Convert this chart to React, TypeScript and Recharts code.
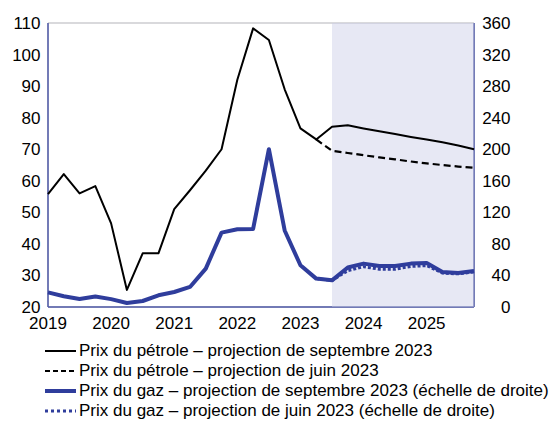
import React from "react";
import {
  ComposedChart,
  Line,
  XAxis,
  YAxis,
  CartesianGrid,
  ReferenceArea,
  ReferenceLine,
  Legend,
} from "recharts";

// Quarterly dates (2019 Q1 … 2025 Q4)
const dates = [
  2019, 2019.25, 2019.5, 2019.75,
  2020, 2020.25, 2020.5, 2020.75,
  2021, 2021.25, 2021.5, 2021.75,
  2022, 2022.25, 2022.5, 2022.75,
  2023, 2023.25, 2023.5, 2023.75,
  2024, 2024.25, 2024.5, 2024.75,
  2025, 2025.25, 2025.5, 2025.75,
];

// Oil price – September 2023 projection (left scale)
const oilSep = [
  55.8, 62.1, 56, 58.3,
  46.5, 25.4, 37, 37,
  51, 57, 63.2, 70,
  92, 108.3, 104.6, 89,
  76.6, 73.1, 77.1, 77.6,
  76.6, 75.7, 74.8, 73.9,
  73.1, 72.2, 71.2, 70,
];

// Oil price – June 2023 projection (left scale)
const oilJun = [
  null, null, null, null,
  null, null, null, null,
  null, null, null, null,
  null, null, null, null,
  null, 73.1, 69.5, 68.8,
  68.1, 67.4, 66.8, 66.1,
  65.5, 65.0, 64.5, 64.1,
];

// Gas price – September 2023 projection (right scale)
const gasSep = [
  18.6, 13.6, 10.2, 13.2,
  10, 5, 7.6, 14.8,
  19, 25.4, 48.7, 94.3,
  98.5, 99, 200, 97,
  52.9, 36, 33.8, 50,
  55, 52, 52, 55,
  55.8, 44.4, 43, 45.6,
];

// Gas price – June 2023 projection (right scale)
const gasJun = [
  null, null, null, null,
  null, null, null, null,
  null, null, null, null,
  null, null, null, null,
  null, 36, 33.8, 46,
  51, 48, 48, 51.5,
  52.5, 43, 42, 44.5,
];

const xTicks = [2019, 2020, 2021, 2022, 2023, 2024, 2025];
const leftTicks = [20, 30, 40, 50, 60, 70, 80, 90, 100, 110];
const rightTicks = [0, 40, 80, 120, 160, 200, 240, 280, 320, 360];
const projectionStart = 2023.5;
const projectionEnd = 2025.75;

const legendLabels = [
  "Prix du pétrole – projection de septembre 2023",
  "Prix du pétrole – projection de juin 2023",
  "Prix du gaz – projection de septembre 2023 (échelle de droite)",
  "Prix du gaz – projection de juin 2023 (échelle de droite)",
];

const data = dates.map((d, i) => ({
  date: d,
  oilSep: oilSep[i],
  oilJun: oilJun[i],
  gasSep: gasSep[i],
  gasJun: gasJun[i],
}));

const BLACK = "#000000";
const BLUE = "#2f3d9c";
const FRAME = "#4f5aa8";
const GRID = "#cdcdd0";
const FONT = "'Liberation Sans', Arial, sans-serif";
const W = 556;
const H = 423;
const MARGIN = { top: 23, right: 0, bottom: 86, left: 0 };

const legendStyles = [
  { stroke: BLACK, width: 2, dash: undefined as string | undefined },
  { stroke: BLACK, width: 2, dash: "5 3" },
  { stroke: BLUE, width: 4, dash: undefined },
  { stroke: BLUE, width: 3, dash: "3 3" },
];

const LegendContent = () => (
  <div style={{ fontFamily: FONT, fontSize: 17, color: "#000" }}>
    {legendLabels.map((label, i) => (
      <div
        key={i}
        style={{ display: "flex", alignItems: "center", height: 20, lineHeight: "20px", whiteSpace: "nowrap" }}
      >
        <svg width={35} height={20} style={{ flex: "none" }}>
          <line
            x1={1}
            x2={32}
            y1={10}
            y2={10}
            stroke={legendStyles[i].stroke}
            strokeWidth={legendStyles[i].width}
            strokeDasharray={legendStyles[i].dash}
          />
        </svg>
        <span>{label}</span>
      </div>
    ))}
  </div>
);

const RightTick = (props: any) => {
  const { x, y, payload } = props;
  return (
    <text
      x={x + 29.5}
      y={y}
      dy="0.355em"
      textAnchor="end"
      fill="#000"
      fontSize={17}
      fontFamily={FONT}
    >
      {payload.value}
    </text>
  );
};

// Background layer: grid and frame (non-default axis ids)
const Background = () => (
  <ComposedChart width={W} height={H} data={data} margin={MARGIN}>
    <CartesianGrid xAxisId="bx" yAxisId="by" stroke={GRID} strokeWidth={1.3} />
    <XAxis
      xAxisId="bx"
      dataKey="date"
      type="number"
      domain={[2019, 2025.75]}
      ticks={xTicks}
      height={30}
      tick={false}
      tickLine={false}
      axisLine={{ stroke: FRAME, strokeWidth: 1.5 }}
    />
    <YAxis
      yAxisId="by"
      domain={[20, 110]}
      ticks={leftTicks}
      width={48}
      tick={false}
      tickLine={false}
      axisLine={{ stroke: FRAME, strokeWidth: 1.5 }}
    />
    <YAxis
      yAxisId="right"
      orientation="right"
      domain={[0, 360]}
      ticks={rightTicks}
      width={82}
      tick={false}
      tickLine={false}
      axisLine={{ stroke: FRAME, strokeWidth: 1.5 }}
    />
    <ReferenceLine xAxisId="bx" yAxisId="by" y={110} stroke={FRAME} strokeWidth={1.5} />
  </ComposedChart>
);

// Foreground layer: shading, series, tick labels, legend
const Foreground = () => (
  <ComposedChart width={W} height={H} data={data} margin={MARGIN}>
    <ReferenceArea
      x1={projectionStart}
      x2={projectionEnd}
      y1={20}
      y2={110}
      fill="#c9cbe6"
      fillOpacity={0.45}
      stroke="none"
    />
    <XAxis
      dataKey="date"
      type="number"
      domain={[2019, 2025.75]}
      ticks={xTicks}
      axisLine={false}
      height={30}
      tickSize={0}
      tickMargin={10}
      tick={{ fill: "#000", fontSize: 17, fontFamily: FONT }}
    />
    <YAxis
      domain={[20, 110]}
      ticks={leftTicks}
      width={48}
      axisLine={false}
      tickSize={0}
      tickMargin={7.5}
      tick={{ fill: "#000", fontSize: 17, fontFamily: FONT }}
    />
    <YAxis
      yAxisId="right"
      orientation="right"
      domain={[0, 360]}
      ticks={rightTicks}
      width={82}
      axisLine={false}
      tickSize={0}
      tickMargin={7}
      tick={<RightTick />}
    />
    <Line
      yAxisId="right"
      dataKey="gasJun"
      stroke={BLUE}
      strokeWidth={3}
      strokeDasharray="3 2"
      dot={false}
      isAnimationActive={false}
    />
    <Line
      yAxisId="right"
      dataKey="gasSep"
      stroke={BLUE}
      strokeWidth={4}
      strokeLinejoin="round"
      dot={false}
      isAnimationActive={false}
    />
    <Line
      dataKey="oilJun"
      stroke={BLACK}
      strokeWidth={2.2}
      strokeDasharray="7 4"
      dot={false}
      isAnimationActive={false}
    />
    <Line
      dataKey="oilSep"
      stroke={BLACK}
      strokeWidth={2}
      strokeLinejoin="round"
      dot={false}
      isAnimationActive={false}
    />
    <Legend
      layout="horizontal"
      verticalAlign="middle"
      align="center"
      content={<LegendContent />}
      wrapperStyle={{ position: "absolute", top: 341, left: 44, width: 512, height: 82, margin: 0 }}
    />
  </ComposedChart>
);

export default function App() {
  return (
    <div style={{ position: "absolute", left: 0, top: 0, width: W, height: H }}>
      <div style={{ position: "absolute", left: 0, top: 0 }}>
        <Background />
      </div>
      <div style={{ position: "absolute", left: 0, top: 0 }}>
        <Foreground />
      </div>
    </div>
  );
}
